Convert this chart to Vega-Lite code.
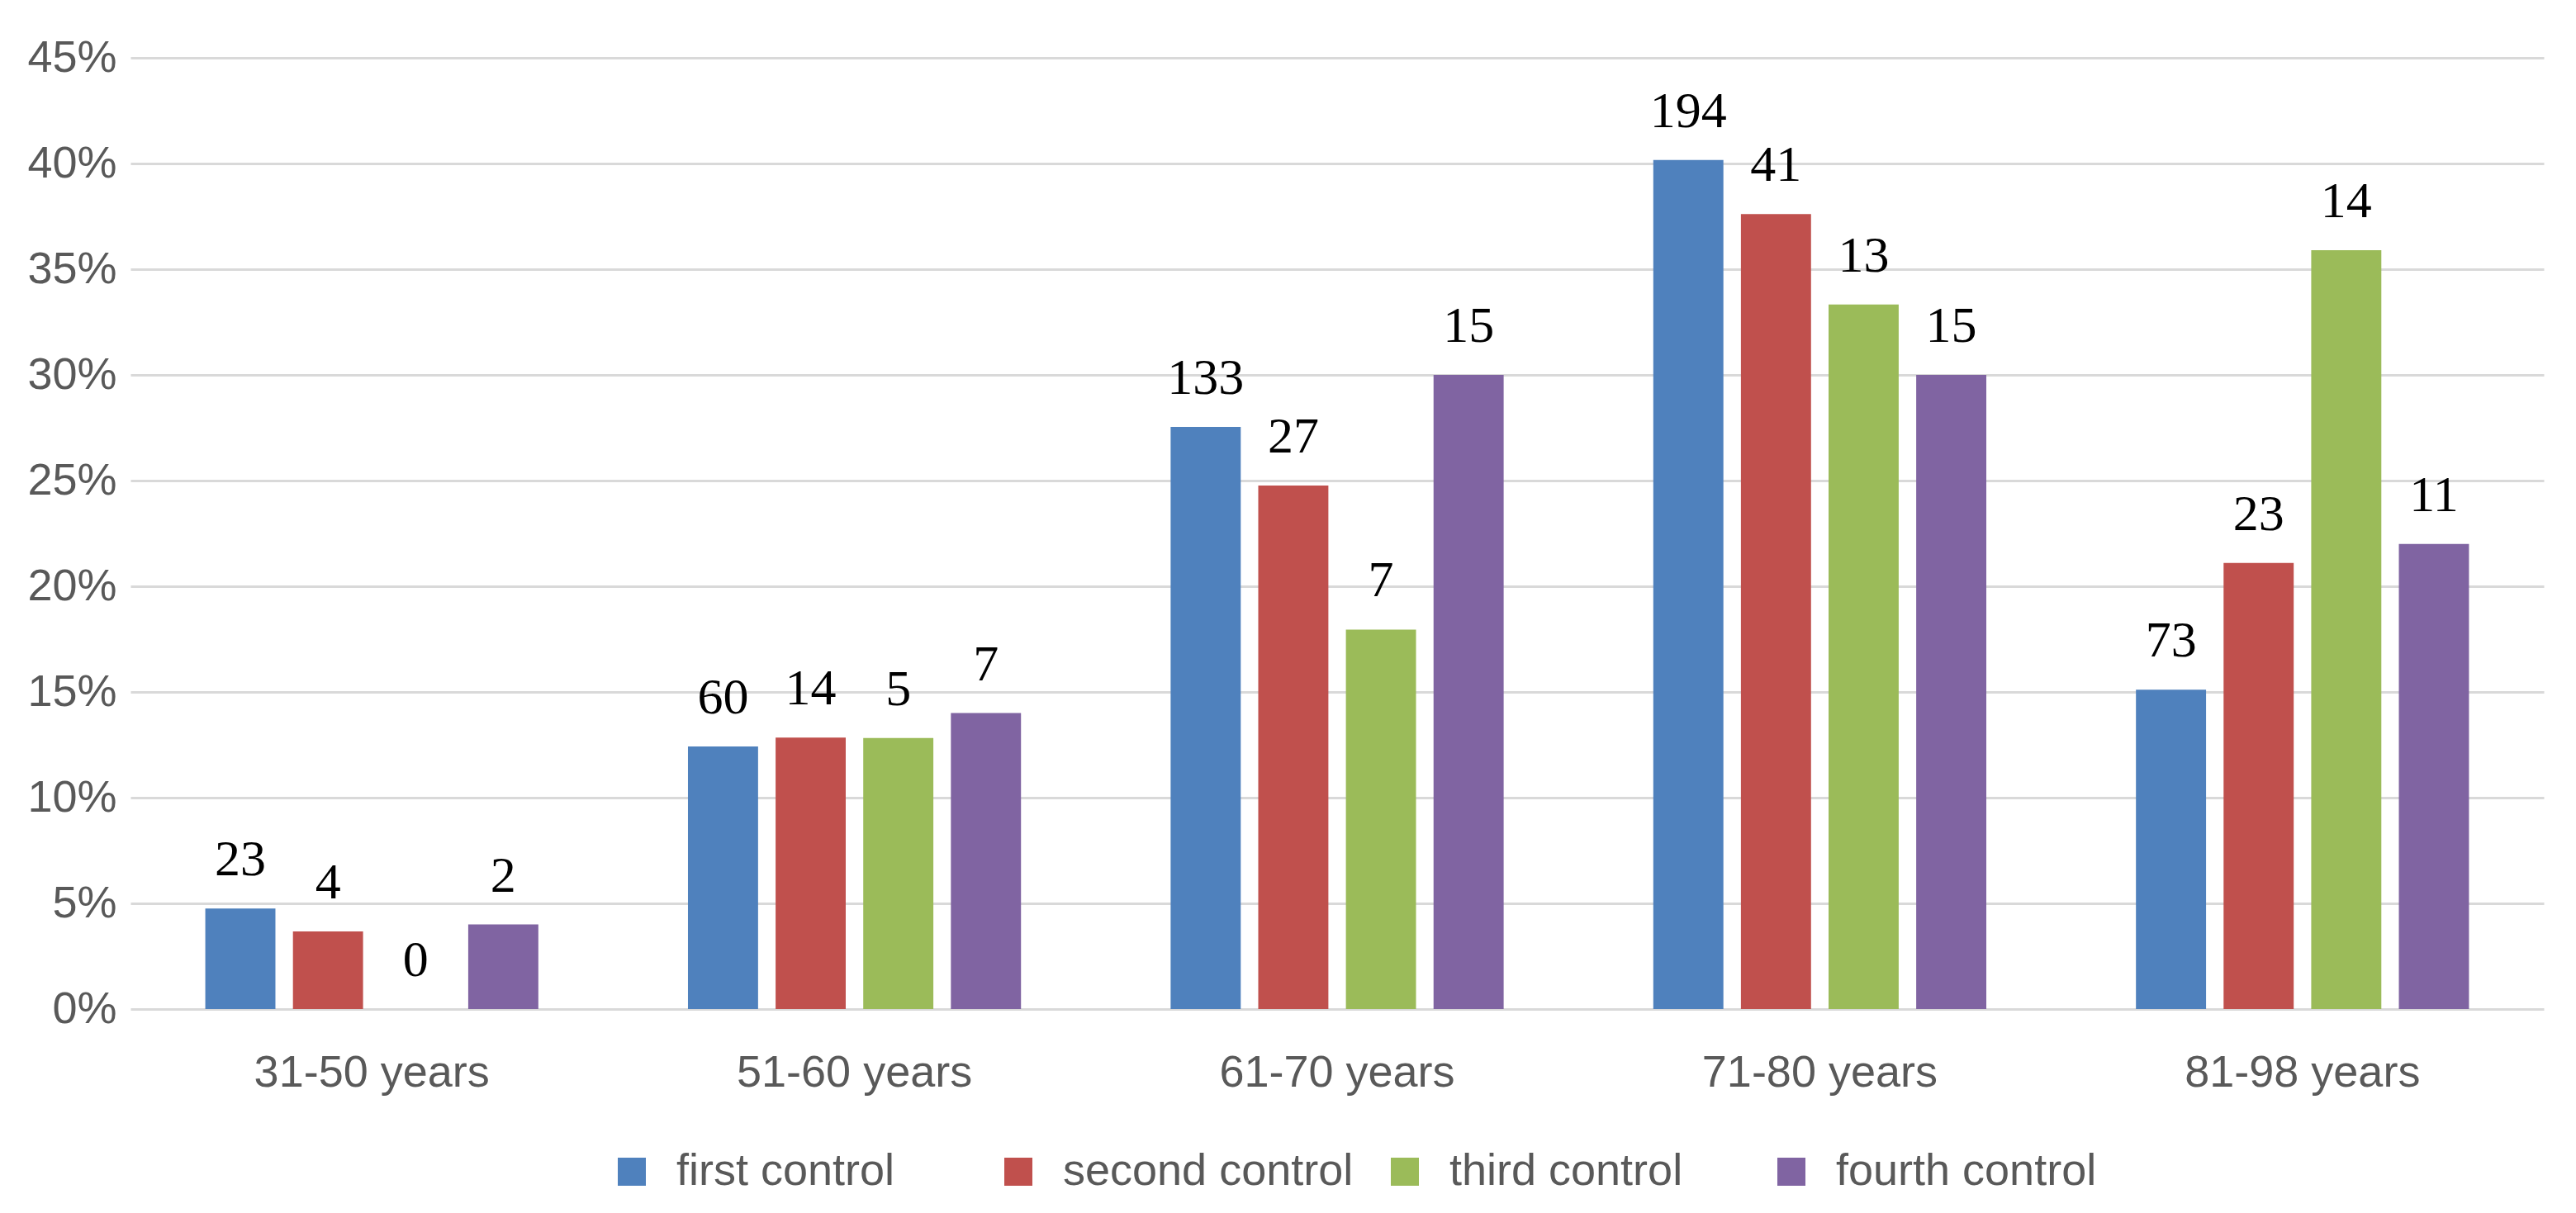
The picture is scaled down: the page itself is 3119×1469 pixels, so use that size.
{
  "$schema": "https://vega.github.io/schema/vega-lite/v6.json",
  "width": 2922,
  "height": 1152,
  "autosize": {"type": "none"},
  "padding": {"left": 158, "top": 70, "right": 39, "bottom": 247},
  "background": "white",
  "config": {"view": {"stroke": null}, "font": "Liberation Sans"},
  "data": {
    "values": [
      {"age": "31-50 years", "control": "first control", "share": 0.0476, "count": 23},
      {"age": "31-50 years", "control": "second control", "share": 0.0367, "count": 4},
      {"age": "31-50 years", "control": "third control", "share": 0.0, "count": 0},
      {"age": "31-50 years", "control": "fourth control", "share": 0.04, "count": 2},
      {"age": "51-60 years", "control": "first control", "share": 0.1242, "count": 60},
      {"age": "51-60 years", "control": "second control", "share": 0.1284, "count": 14},
      {"age": "51-60 years", "control": "third control", "share": 0.1282, "count": 5},
      {"age": "51-60 years", "control": "fourth control", "share": 0.14, "count": 7},
      {"age": "61-70 years", "control": "first control", "share": 0.2754, "count": 133},
      {"age": "61-70 years", "control": "second control", "share": 0.2477, "count": 27},
      {"age": "61-70 years", "control": "third control", "share": 0.1795, "count": 7},
      {"age": "61-70 years", "control": "fourth control", "share": 0.30, "count": 15},
      {"age": "71-80 years", "control": "first control", "share": 0.4017, "count": 194},
      {"age": "71-80 years", "control": "second control", "share": 0.3761, "count": 41},
      {"age": "71-80 years", "control": "third control", "share": 0.3333, "count": 13},
      {"age": "71-80 years", "control": "fourth control", "share": 0.30, "count": 15},
      {"age": "81-98 years", "control": "first control", "share": 0.1511, "count": 73},
      {"age": "81-98 years", "control": "second control", "share": 0.211, "count": 23},
      {"age": "81-98 years", "control": "third control", "share": 0.359, "count": 14},
      {"age": "81-98 years", "control": "fourth control", "share": 0.22, "count": 11}
    ]
  },
  "encoding": {
    "x": {
      "field": "age",
      "type": "nominal",
      "sort": ["31-50 years", "51-60 years", "61-70 years", "71-80 years", "81-98 years"],
      "scale": {"paddingInner": 0.31, "paddingOuter": 0.155},
      "axis": {
        "title": null,
        "labelAngle": 0,
        "domain": false,
        "ticks": false,
        "labelFont": "Liberation Sans",
        "labelFontSize": 54,
        "labelColor": "#595959",
        "labelPadding": 50,
        "labelLimit": 1000
      }
    },
    "xOffset": {
      "field": "control",
      "type": "nominal",
      "sort": ["first control", "second control", "third control", "fourth control"],
      "scale": {"paddingInner": 0.2, "paddingOuter": 0}
    },
    "y": {
      "field": "share",
      "type": "quantitative",
      "scale": {"domain": [0, 0.45], "nice": false},
      "axis": {
        "title": null,
        "format": ".0%",
        "values": [0, 0.05, 0.1, 0.15, 0.2, 0.25, 0.3, 0.35, 0.4, 0.45],
        "domain": false,
        "ticks": false,
        "gridColor": "#d9d9d9",
        "gridWidth": 3,
        "labelFont": "Liberation Sans",
        "labelFontSize": 54,
        "labelColor": "#595959",
        "labelPadding": 17
      }
    }
  },
  "layer": [
    {
      "mark": {"type": "bar"},
      "encoding": {
        "color": {
          "field": "control",
          "type": "nominal",
          "scale": {
            "domain": ["first control", "second control", "third control", "fourth control"],
            "range": ["#4F81BD", "#C0504D", "#9BBB59", "#8064A2"]
          },
          "legend": {
            "title": null,
            "orient": "none",
            "legendX": 580,
            "legendY": 1322,
            "direction": "horizontal",
            "symbolType": "square",
            "symbolSize": 1156,
            "symbolStrokeWidth": 0,
            "labelFont": "Liberation Sans",
            "labelFontSize": 54,
            "labelColor": "#595959",
            "labelLimit": 1000,
            "labelOffset": 27,
            "columnPadding": 35,
            "gridAlign": "all",
            "padding": 0
          }
        }
      }
    },
    {
      "mark": {
        "type": "text",
        "font": "Liberation Serif",
        "fontSize": 62,
        "dy": -40,
        "baseline": "alphabetic",
        "color": "black"
      },
      "encoding": {
        "text": {"field": "count", "type": "quantitative"}
      }
    }
  ]
}
